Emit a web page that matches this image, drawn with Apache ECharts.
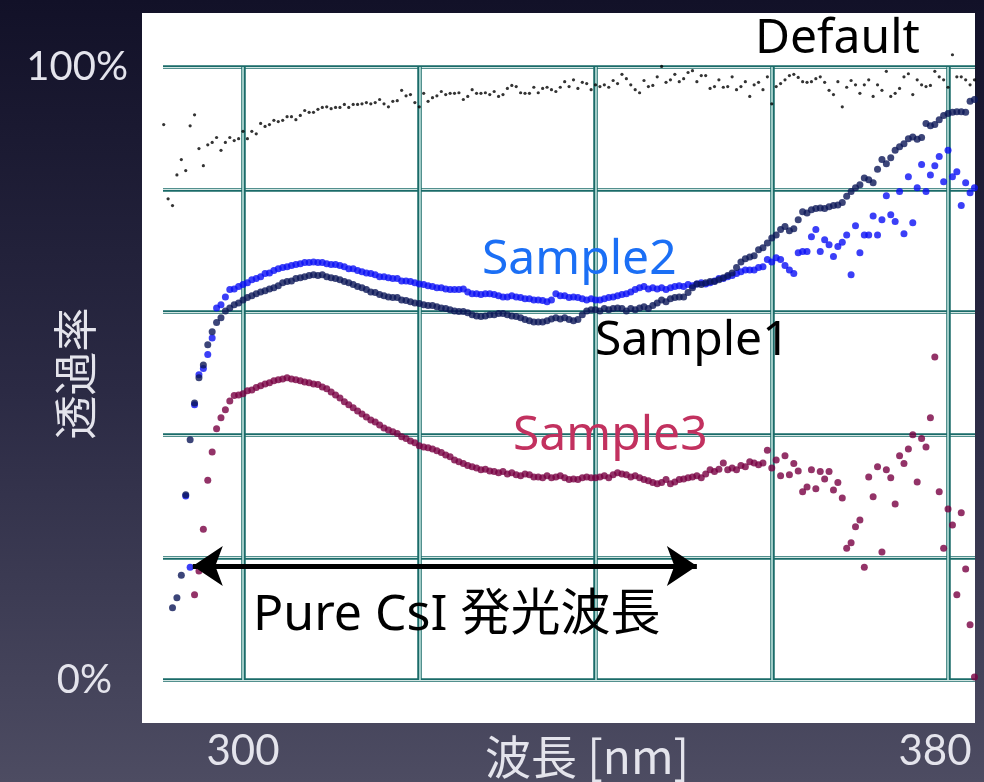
<!DOCTYPE html>
<html><head><meta charset="utf-8">
<script src="https://cdn.jsdelivr.net/npm/echarts@6/dist/echarts.min.js"></script>
<style>html,body{margin:0;padding:0;background:#2a2940;}#chart{width:984px;height:782px;}</style>
</head><body><div id="chart"></div>
<script>
// Wavelength grid (nm)
const wavelengths = [
291,291.5,292,292.5,293,293.5,294,294.5,295,295.5,296,296.5,297,297.5,298,298.5,299,299.5,
300,300.5,301,301.5,302,302.5,303,303.5,304,304.5,305,305.5,306,306.5,307,307.5,308,308.5,309,309.5,
310,310.5,311,311.5,312,312.5,313,313.5,314,314.5,315,315.5,316,316.5,317,317.5,318,318.5,319,319.5,
320,320.5,321,321.5,322,322.5,323,323.5,324,324.5,325,325.5,326,326.5,327,327.5,328,328.5,329,329.5,
330,330.5,331,331.5,332,332.5,333,333.5,334,334.5,335,335.5,336,336.5,337,337.5,338,338.5,339,339.5,
340,340.5,341,341.5,342,342.5,343,343.5,344,344.5,345,345.5,346,346.5,347,347.5,348,348.5,349,349.5,
350,350.5,351,351.5,352,352.5,353,353.5,354,354.5,355,355.5,356,356.5,357,357.5,358,358.5,359,359.5,
360,360.5,361,361.5,362,362.5,363,363.5,364,364.5,365,365.5,366,366.5,367,367.5,368,368.5,369,369.5,
370,370.5,371,371.5,372,372.5,373,373.5,374,374.5,375,375.5,376,376.5,377,377.5,378,378.5,379,379.5,
380,380.5,381,381.5,382,382.5,383
];
// Transmittance (%)
const defaultT = [
90.6,78.5,77.4,82.4,84.9,83.1,90.4,92.2,86.7,83.9,87.3,87.7,88.5,86.4,87.7,88.5,88.0,88.3,
89.5,88.3,89.5,89.1,90.8,90.3,90.6,91.3,91.1,91.3,91.9,91.9,91.4,92.1,92.9,92.6,92.6,93.1,93.4,93.5,
93.2,93.4,93.4,93.9,93.4,93.9,93.9,94.0,94.2,94.0,94.2,94.7,94.0,93.5,94.4,94.5,96.2,95.3,95.5,94.2,
93.5,95.7,94.4,95.0,95.3,96.0,95.5,95.7,95.7,95.8,94.7,95.2,96.3,95.7,95.7,95.8,95.5,96.0,95.2,95.5,
96.5,97.0,96.8,95.8,95.7,95.7,96.7,95.8,96.5,96.7,96.3,96.0,96.7,97.6,96.8,97.9,96.5,97.5,97.3,96.3,
97.1,96.8,97.1,96.7,97.8,97.3,98.8,98.1,97.1,96.3,95.8,97.8,96.8,97.0,98.4,100.1,97.5,97.9,98.8,97.6,
98.1,99.1,99.4,97.6,98.6,98.6,96.5,96.8,97.9,96.7,96.8,98.4,96.3,96.8,97.6,95.2,97.1,97.5,96.3,98.4,
94.0,96.8,97.3,97.9,98.6,98.8,98.3,97.6,97.5,97.6,98.1,98.4,97.5,96.2,95.5,97.6,93.5,96.7,97.8,97.1,
95.7,97.1,97.9,95.2,97.1,96.2,99.3,95.2,95.7,96.5,98.4,98.9,95.5,97.9,97.1,96.8,97.0,99.3,98.4,97.9,
96.7,102.0,98.4,98.4,97.9,97.1,97.9
];
const sample1T = [
null,null,11.8,13.4,17.1,30.2,39.2,45.2,49.3,51.4,54.7,56.8,58.3,59.1,60.2,60.7,61.2,61.5,
62.0,62.4,62.7,63.0,63.3,63.5,63.8,64.0,64.3,64.8,65.0,65.1,65.5,65.6,65.8,66.0,66.1,66.0,66.1,65.8,
65.6,65.5,65.3,65.0,64.8,64.5,64.2,64.0,63.7,63.3,63.2,62.9,62.7,62.5,62.4,62.4,62.0,61.9,61.7,61.5,
61.4,61.2,61.1,61.1,60.9,60.7,60.6,60.4,60.2,60.1,60.1,59.9,59.6,59.4,59.3,59.4,59.6,59.6,59.8,59.8,
59.6,59.4,59.3,59.1,58.8,58.6,58.4,58.4,58.4,58.6,58.9,59.1,58.9,59.1,58.8,58.6,58.8,59.6,60.2,60.4,
60.4,60.2,60.6,60.4,60.6,60.7,60.6,60.2,60.6,60.4,60.7,60.9,60.6,61.1,61.5,62.0,61.7,62.2,62.4,62.5,
62.5,63.2,64.0,64.6,64.5,64.8,65.0,65.0,65.3,65.6,66.0,66.4,67.3,68.2,68.7,69.0,69.2,70.2,70.5,71.3,
72.1,72.6,73.5,74.0,73.3,73.6,75.1,76.4,76.2,76.7,76.9,77.0,76.9,77.2,77.4,77.5,77.9,78.9,79.7,80.3,
80.8,81.9,81.6,81.1,83.3,84.9,84.2,85.2,86.4,87.0,87.5,88.3,88.6,88.2,88.5,90.8,90.4,90.6,91.4,92.1,
92.4,92.6,92.7,92.7,92.6,94.4,94.7
];
const sample2T = [
null,null,null,null,null,30.0,18.4,44.9,49.8,50.8,53.1,55.8,60.7,61.2,62.5,63.7,63.8,64.2,
64.5,64.8,65.3,65.5,65.8,66.3,66.4,66.8,67.1,67.3,67.4,67.6,67.8,67.9,68.1,68.1,68.2,68.1,68.1,67.9,
67.8,67.8,67.6,67.4,67.1,67.1,66.8,66.6,66.4,66.3,66.1,65.8,65.8,65.6,65.5,65.5,65.1,65.1,65.0,64.8,
64.6,64.5,64.3,64.2,64.0,64.0,63.8,63.7,63.7,63.7,63.8,63.3,63.0,63.0,62.9,63.0,63.0,62.9,62.7,62.5,
62.5,62.7,62.5,62.4,62.2,62.2,62.0,62.0,61.9,61.7,62.0,63.0,62.7,62.7,62.4,62.5,62.4,62.2,62.0,62.2,
62.0,62.0,62.2,62.4,62.5,62.7,62.9,63.0,63.3,63.7,64.0,64.2,63.8,64.0,63.8,64.0,63.7,64.0,64.2,64.3,
64.2,64.5,64.3,64.6,64.8,64.6,64.8,65.1,65.5,65.5,65.8,66.0,66.3,66.6,66.9,66.9,66.9,67.3,67.4,68.6,
68.2,68.9,68.6,67.6,66.9,66.3,69.7,69.9,69.9,72.3,73.5,69.9,71.8,71.0,69.1,70.7,71.4,72.6,66.1,74.1,
69.7,72.6,72.6,75.7,72.6,75.1,79.0,75.9,74.8,79.7,72.8,82.1,74.6,80.3,84.1,79.7,82.4,83.9,85.4,81.3,
86.4,82.1,82.9,77.4,81.1,79.5,80.3
];
const sample3T = [
null,null,null,null,null,null,null,13.9,17.8,24.6,32.6,37.2,41.0,42.8,44.1,45.5,46.4,46.5,
46.7,47.2,47.3,47.7,48.0,48.3,48.5,48.8,49.0,49.1,49.3,49.1,49.0,48.8,48.6,48.5,48.3,48.2,47.8,47.5,
47.0,46.5,46.0,45.4,44.9,44.4,43.9,43.4,42.9,42.4,42.1,41.6,41.1,40.8,40.5,40.2,39.7,39.4,39.0,38.7,
38.2,38.0,37.9,37.7,37.4,37.1,36.7,36.4,35.9,35.6,35.3,35.0,34.8,34.6,34.3,34.4,34.1,34.0,33.8,34.0,
33.6,33.8,33.5,33.3,33.6,33.5,33.1,33.1,33.0,33.3,33.0,33.1,33.3,33.0,32.7,32.8,32.7,33.0,33.1,33.0,
33.0,33.1,33.3,33.0,33.5,33.8,33.6,33.5,33.1,33.3,33.0,32.7,32.5,32.2,32.0,32.2,32.7,32.0,32.3,32.7,
32.8,33.0,33.1,33.3,33.0,33.6,34.3,34.0,34.4,35.4,34.3,34.6,34.3,35.0,34.8,35.6,35.4,35.1,35.4,37.5,
34.6,35.9,33.3,36.6,33.5,35.3,34.1,30.7,31.5,34.3,31.2,34.0,32.8,34.0,31.0,32.2,29.7,21.5,22.4,25.0,
26.1,18.4,33.1,29.9,34.8,20.9,34.3,33.0,28.7,36.6,35.3,37.7,40.0,32.3,39.4,38.0,42.8,52.7,30.7,21.5,
27.9,25.3,13.9,27.3,18.1,9.0,0.5
];
const xTickLabels = [300, 380];
const yTickLabels = [0, 100];
// Annotation: "Pure CsI" emission band arrow (nm, %)
const arrowRange = [294.3, 351.5];
const arrowLevel = 18.6;

const toPairs = ys => wavelengths.map((w, i) => [w, ys[i]]).filter(p => p[1] != null);

const chart = echarts.init(document.getElementById('chart'), null, {renderer: 'canvas'});
const axisFont = 'Lato';
const jpFont = '"Noto Sans CJK JP"';
const txtFont = '"Noto Sans", "Noto Sans CJK JP"';
const labelColor = '#e4e4ec';
const darkTeal = '#1a6b69';

chart.setOption({
  animation: false,
  backgroundColor: new echarts.graphic.LinearGradient(0, 0, 0, 1, [
    {offset: 0, color: '#121128'},
    {offset: 0.5, color: '#2b2a44'},
    {offset: 1, color: '#4d4c62'}
  ]),
  grid: [
    {left: 163, right: 9, top: 67, bottom: 102, containLabel: false, outerBoundsMode: 'none'},
    {left: 243, right: 36, top: 67, bottom: 102, containLabel: false, outerBoundsMode: 'none'}
  ],
  xAxis: [
    {type: 'value', gridIndex: 0, min: 290.92, max: 383.06, show: false},
    {type: 'value', gridIndex: 1, min: 300, max: 380, interval: 20, z: 1,
      axisLine: {show: false}, axisTick: {show: false},
      splitLine: {show: true, lineStyle: {color: darkTeal, width: 4.5}},
      axisLabel: {
        margin: 50, fontSize: 42, fontFamily: axisFont, color: labelColor,
        formatter: v => xTickLabels.includes(v) ? (v === 380 ? '{r|' + v + '}' : String(v)) : '',
        rich: {r: {fontSize: 42, fontFamily: axisFont, color: labelColor, padding: [0, 26, 0, 0]}}
      },
      name: '波長 [nm]', nameLocation: 'middle', nameGap: 54, nameMoveOverlap: false,
      nameTextStyle: {fontSize: 46, fontFamily: jpFont, color: labelColor, padding: [0, 17, 0, 0]}
    },
    {type: 'value', gridIndex: 1, min: 300, max: 380, interval: 20, z: 1,
      axisLine: {show: false}, axisTick: {show: false}, axisLabel: {show: false},
      splitLine: {show: true, lineStyle: {color: '#9fcbc6', width: 2}}
    }
  ],
  yAxis: [
    {type: 'value', gridIndex: 0, min: 0, max: 100, interval: 20, z: 0,
      axisLine: {show: false}, axisTick: {show: false},
      splitLine: {show: true, lineStyle: {color: darkTeal, width: 3.5}},
      axisLabel: {
        margin: 35, fontSize: 40, fontFamily: axisFont, color: labelColor,
        formatter: v => yTickLabels.includes(v) ? (v === 0 ? '{z|0%}' : v + '%') : '',
        rich: {z: {fontSize: 40, fontFamily: axisFont, color: labelColor, padding: [0, 16, 0, 0]}}
      },
      name: '透過率', nameLocation: 'middle', nameGap: 66, nameRotate: 90, nameMoveOverlap: false,
      nameTextStyle: {fontSize: 44, fontFamily: jpFont, color: labelColor}
    },
    {type: 'value', gridIndex: 0, min: 0, max: 100, interval: 20, z: 0, position: 'left',
      axisLine: {show: false}, axisTick: {show: false}, axisLabel: {show: false},
      splitLine: {show: true, lineStyle: {color: '#d2e5e2', width: 1.1}}
    },
    {type: 'value', gridIndex: 1, min: 0, max: 100, show: false}
  ],
  graphic: [
    {type: 'rect', z: -10, silent: true, shape: {x: 142, y: 13, width: 833, height: 710}, style: {fill: '#ffffff'}},
    {type: 'text', z: 10, silent: true, style: {text: 'Default', x: 755, y: 39, font: '48px ' + txtFont, fill: '#000', textAlign: 'left', textVerticalAlign: 'middle'}},
    {type: 'text', z: 10, silent: true, style: {text: 'Sample2', x: 482, y: 260, font: '48px ' + txtFont, fill: '#1b6ff5', textAlign: 'left', textVerticalAlign: 'middle'}},
    {type: 'text', z: 10, silent: true, style: {text: 'Sample1', x: 595, y: 341, font: '48px ' + txtFont, fill: '#000', textAlign: 'left', textVerticalAlign: 'middle'}},
    {type: 'text', z: 10, silent: true, style: {text: 'Sample3', x: 513, y: 436, font: '48px ' + txtFont, fill: '#c2315f', textAlign: 'left', textVerticalAlign: 'middle'}},
    {type: 'text', z: 10, silent: true, style: {text: 'Pure CsI 発光波長', x: 253, y: 616, font: '50px ' + txtFont, fill: '#000', textAlign: 'left', textVerticalAlign: 'middle'}}
  ],
  series: [
    {name: 'Default', type: 'scatter', xAxisIndex: 0, yAxisIndex: 0, data: toPairs(defaultT),
      symbolSize: 3.2, itemStyle: {color: '#000'}, clip: false, silent: true,
      markLine: {
        silent: true, symbol: ['arrow', 'arrow'], symbolSize: 30,
        lineStyle: {color: '#000', width: 5, type: 'solid'}, label: {show: false},
        data: [[{coord: [arrowRange[0], arrowLevel]}, {coord: [arrowRange[1], arrowLevel]}]]
      }
    },
    {name: 'Sample2', type: 'scatter', xAxisIndex: 0, yAxisIndex: 0, data: toPairs(sample2T),
      symbolSize: 7, itemStyle: {color: '#0a0ff5'}, clip: false, silent: true},
    {name: 'Sample1', type: 'scatter', xAxisIndex: 0, yAxisIndex: 0, data: toPairs(sample1T),
      symbolSize: 7, itemStyle: {color: '#0b1757'}, clip: false, silent: true},
    {name: 'Sample3', type: 'scatter', xAxisIndex: 0, yAxisIndex: 0, data: toPairs(sample3T),
      symbolSize: 7, itemStyle: {color: '#780042'}, clip: false, silent: true}
  ]
});
</script>
</body></html>
